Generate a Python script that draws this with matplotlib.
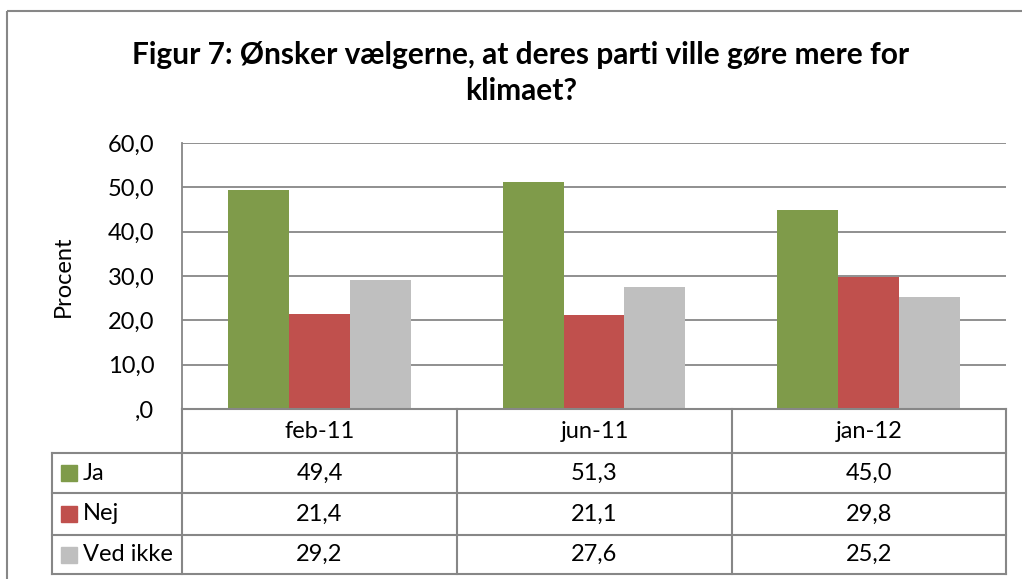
import numpy as np
import matplotlib
matplotlib.use("Agg")
from matplotlib import pyplot as plt
from matplotlib.ticker import FuncFormatter
from matplotlib.patches import Rectangle

plt.rcParams['font.family'] = ['Lato', 'DejaVu Sans']

title = "Figur 7: Ønsker vælgerne, at deres parti ville gøre mere for\nklimaet?"
categories = ["feb-11", "jun-11", "jan-12"]
series = ["Ja", "Nej", "Ved ikke"]
ja = [49.4, 51.3, 45.0]
nej = [21.4, 21.1, 29.8]
ved_ikke = [29.2, 27.6, 25.2]
colors = ["#7F9B4A", "#C0504D", "#BFBFBF"]
yticks = [0, 10, 20, 30, 40, 50, 60]

W, H = 1022, 579
grid_col = "#878787"
fs = 17


def fmt(v, pos=None):
    s = f"{v:.1f}".replace(".", ",")
    return s[1:] if s.startswith("0,") else s


fig = plt.figure(figsize=(W / 100, H / 100), dpi=100)

# plot area in pixels
L, R, T, B = 182, 1006, 143, 409
ax = fig.add_axes([L / W, 1 - B / H, (R - L) / W, (B - T) / H])

values = [ja, nej, ved_ikke]
n = len(categories)
bw = 61 / 275
x = np.arange(n)
for i, (vals, c) in enumerate(zip(values, colors)):
    ax.bar(x + (i - 1) * bw, vals, width=bw, color=c, zorder=3)

ax.set_xlim(-0.5, n - 0.5)
ax.set_ylim(0, 60)
ax.set_yticks(yticks)
ax.yaxis.set_major_formatter(FuncFormatter(fmt))
ax.set_xticks([])
ax.grid(axis="y", color=grid_col, linewidth=1.3, zorder=0)
for s in ["top", "right", "bottom"]:
    ax.spines[s].set_visible(False)
ax.spines["left"].set_color(grid_col)
ax.spines["left"].set_linewidth(1.3)
ax.tick_params(axis="y", length=0, pad=20, labelsize=fs)
ax.set_ylabel("Procent", fontsize=fs, labelpad=24)

# overlay in pixel coordinates for title, table and border
ov = fig.add_axes([0, 0, 1, 1], zorder=-1)
ov.set_xlim(0, W)
ov.set_ylim(H, 0)
ov.axis("off")
ov2 = fig.add_axes([0, 0, 1, 1])
ov2.set_xlim(0, W)
ov2.set_ylim(H, 0)
ov2.axis("off")
ov2.patch.set_alpha(0)

ov.add_patch(Rectangle((7, 11), 1040, 600, fill=False, edgecolor=grid_col, linewidth=1.5))

ov2.text(521, 73, title, ha="center", va="center", fontsize=21.5, fontweight="bold",
         linespacing=1.38)

# data table
col_x = [L, 457, 732, R]
row_y = [B, 453, 493, 535, 574]
lw = 1.5
ov2.plot([L, R], [row_y[0], row_y[0]], color=grid_col, lw=lw)
for y in row_y[1:]:
    ov2.plot([52, R], [y, y], color=grid_col, lw=lw)
for xx in col_x:
    ov2.plot([xx, xx], [row_y[0], row_y[-1]], color=grid_col, lw=lw)
ov2.plot([52, 52], [row_y[1], row_y[-1]], color=grid_col, lw=lw)

for j, cat in enumerate(categories):
    cx = (col_x[j] + col_x[j + 1]) / 2
    ov2.text(cx, (row_y[0] + row_y[1]) / 2, cat, ha="center", va="center", fontsize=fs)

for i, (name, vals, c) in enumerate(zip(series, values, colors)):
    cy = (row_y[i + 1] + row_y[i + 2]) / 2
    ov2.add_patch(Rectangle((61, cy - 8), 16, 16, color=c))
    ov2.text(83, cy, name, ha="left", va="center", fontsize=fs)
    for j, v in enumerate(vals):
        cx = (col_x[j] + col_x[j + 1]) / 2
        ov2.text(cx, cy, fmt(v), ha="center", va="center", fontsize=fs)

fig.savefig("out.png", dpi=100)
